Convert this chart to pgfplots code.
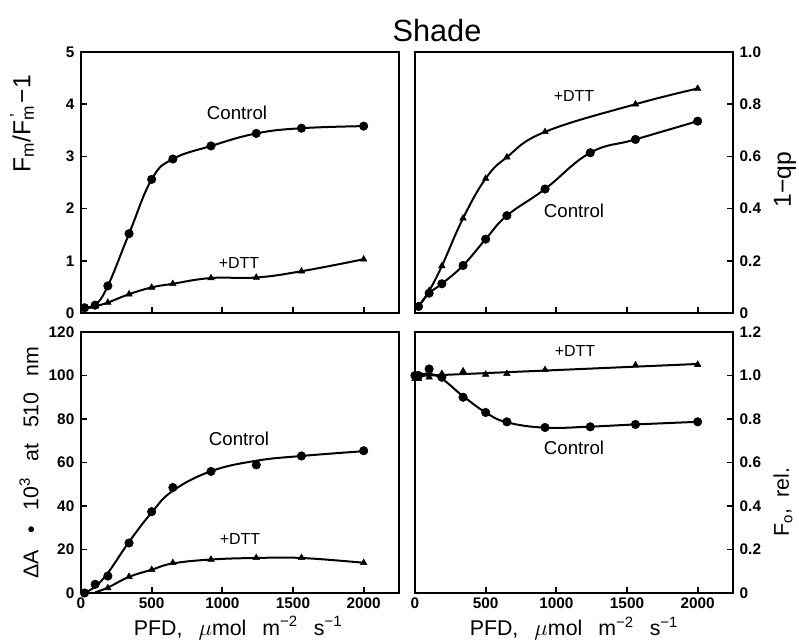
\documentclass[border=0pt]{standalone}
\usepackage{pgfplots}
\pgfplotsset{compat=1.18}
\usepackage{fontspec}
\setmainfont{Liberation Sans}

% light-response data (PFD in umol m^-2 s^-1)
\pgfplotstableread{
x    y
25   0.10
100  0.15
190  0.52
340  1.52
500  2.56
650  2.95
920  3.20
1240 3.44
1560 3.54
2000 3.58
}\fmCtl
\pgfplotstableread{
x    y
25   0.10
100  0.13
190  0.20
340  0.36
500  0.49
650  0.56
920  0.67
1240 0.68
1560 0.80
2000 1.03
}\fmDtt
\pgfplotstableread{
x    y
25   0.025
100  0.076
190  0.112
340  0.182
500  0.283
650  0.373
920  0.475
1240 0.614
1560 0.665
2000 0.735
}\qpCtl
\pgfplotstableread{
x    y
25   0.025
100  0.085
190  0.180
340  0.363
500  0.515
650  0.597
920  0.694
1560 0.800
2000 0.860
}\qpDtt
\pgfplotstableread{
x    y
25   0.0
100  4.0
190  7.8
340  23.0
500  37.4
650  48.5
920  55.9
1240 58.9
1560 63.0
2000 65.4
}\daCtl
\pgfplotstableread{
x    y
25   0.0
190  2.3
340  7.5
500  10.7
650  13.9
920  15.4
1240 16.2
1560 16.2
2000 13.9
}\daDtt
\pgfplotstableread{
x    y
0    1.000
25   1.000
100  1.030
190  0.992
340  0.900
500  0.830
650  0.787
920  0.761
1240 0.764
1560 0.775
2000 0.787
}\foCtl
\pgfplotstableread{
x    y
0    0.985
25   0.985
100  0.992
190  1.008
340  1.020
500  1.005
650  1.008
920  1.026
1560 1.048
2000 1.050
}\foDtt

\newcommand\gap{\hspace{0.75em}}

\pgfplotsset{
  panel/.style={
    scale only axis, width=238.5pt, height=195.75pt,
    xmin=0, xmax=2250,
    xtick={0,500,1000,1500,2000},
    xtick pos=left,
    tick align=inside, major tick length=4.5pt,
    axis line style={line width=2pt},
    tick style={black, line width=1.3pt},
    tick label style={font=\fontsize{11.5}{13}\selectfont\bfseries},
    label style={font=\fontsize{16}{19}\selectfont},
    clip=false,
  },
  curve/.style={black, line width=1.5pt, smooth, tension=0.7},
  ctl/.style={black, only marks, mark=*, mark size=3.2pt},
  dtt/.style={black, only marks, mark=triangle*, mark size=2.8pt},
}
\tikzset{
  tag/.style={font=\fontsize{14}{16}\selectfont},
  tagd/.style={font=\fontsize{12}{14}\selectfont},
}

\begin{document}
\begin{tikzpicture}
\useasboundingbox (0,0) rectangle (599.25pt,482.25pt);

\node[font=\fontsize{23}{26}\selectfont] at (327.75pt,459.5pt) {Shade};

% top left
\begin{axis}[panel, at={(60.75pt,247.5pt)},
  ymin=0, ymax=5, ytick={0,1,2,3,4,5}, ytick pos=left,
  yticklabels={0,1,2,3,4,5}, xticklabels={},
  ylabel={F\textsubscript{m}/F\rlap{\textsuperscript{\,’}}\textsubscript{m}\kern1pt−\kern1pt1},
  ylabel style={at={(axis description cs:-0.1855,0.727)}, anchor=center,
    font=\fontsize{18.5}{21}\selectfont},
  yticklabel style={xshift=-1.5pt}]
\addplot[curve] table {\fmCtl};
\addplot[curve] table {\fmDtt};
\addplot[ctl] table {\fmCtl};
\addplot[dtt] table {\fmDtt};
\node[tag] at (axis cs:1104,3.83) {Control};
\node[tagd] at (axis cs:1118,0.96) {+DTT};
\end{axis}

% top right
\begin{axis}[panel, at={(311.25pt,247.5pt)},
  ymin=0, ymax=1, ytick={0,0.2,0.4,0.6,0.8,1.0}, ytick pos=right,
  yticklabels={0,0.2,0.4,0.6,0.8,1.0}, xticklabels={},
  ylabel={1−qp},
  ylabel style={at={(axis description cs:1.1635,0.51)}, anchor=center,
    font=\fontsize{18.5}{21}\selectfont},
  yticklabel style={xshift=1.5pt}]
\addplot[curve] table {\qpCtl};
\addplot[curve] table {\qpDtt};
\addplot[ctl] table {\qpCtl};
\addplot[dtt] table {\qpDtt};
\node[tagd] at (axis cs:1125,0.83) {+DTT};
\node[tag] at (axis cs:1125,0.39) {Control};
\end{axis}

% bottom left
\begin{axis}[panel, at={(60.75pt,37.5pt)},
  ymin=0, ymax=120, ytick={0,20,...,120}, ytick pos=left,
  yticklabels={0,20,40,60,80,100,120},
  xticklabels={0,500,1000,1500,2000},
  ylabel={ΔA\gap•\gap10\textsuperscript{3}\gap at\gap 510\gap nm},
  ylabel style={at={(axis description cs:-0.1635,0.5)}, anchor=center},
  xlabel={PFD,\gap$\mu$mol\gap m\textsuperscript{−2}\gap s\textsuperscript{−1}},
  xlabel style={at={(axis description cs:0.494,-0.134)}, anchor=center},
  yticklabel style={xshift=-1.5pt}]
\addplot[curve] coordinates {(25,0) (100,3) (190,9.2) (340,23.5) (500,37) (650,47) (920,56) (1240,60.8) (1560,63) (2000,65.2)};
\addplot[curve] coordinates {(100,0.3) (190,2.5) (340,7.4) (500,10.7) (650,13.6) (920,15.4) (1240,16.1) (1560,16.1) (2000,13.9)};
\addplot[ctl] table {\daCtl};
\addplot[dtt] table {\daDtt};
\node[tag] at (axis cs:1118,71) {Control};
\node[tagd] at (axis cs:1125,24.7) {+DTT};
\end{axis}

% bottom right
\begin{axis}[panel, at={(311.25pt,37.5pt)},
  ymin=0, ymax=1.2, ytick={0,0.2,...,1.2}, ytick pos=right,
  yticklabels={0,0.2,0.4,0.6,0.8,1.0,1.2},
  xticklabels={0,500,1000,1500,2000},
  ylabel={F\textsubscript{o},\hspace{0.5em}rel.},
  ylabel style={at={(axis description cs:1.157,0.348)}, anchor=center},
  xlabel={PFD,\gap$\mu$mol\gap m\textsuperscript{−2}\gap s\textsuperscript{−1}},
  xlabel style={at={(axis description cs:0.5,-0.136)}, anchor=center},
  yticklabel style={xshift=1.5pt}]
\addplot[curve] coordinates {(0,1.0) (150,1.0) (340,0.905) (500,0.83) (650,0.785) (920,0.76) (1240,0.765) (1560,0.775) (2000,0.787)};
\addplot[black, line width=1.5pt] coordinates {(0,0.997) (2000,1.053)};
\addplot[ctl] table {\foCtl};
\addplot[dtt] table {\foDtt};
\node[tagd] at (axis cs:1132,1.114) {+DTT};
\node[tag] at (axis cs:1125,0.668) {Control};
\end{axis}
\end{tikzpicture}
\end{document}
